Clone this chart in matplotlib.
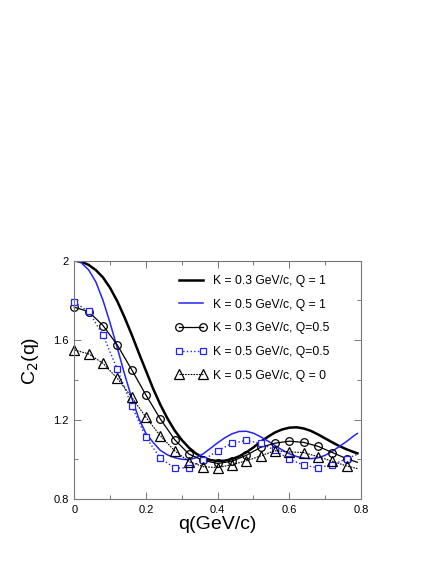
import matplotlib
matplotlib.use("Agg")
import matplotlib.pyplot as plt
from matplotlib.ticker import MultipleLocator, FormatStrFormatter

plt.rcParams['font.family'] = ['Liberation Sans', 'DejaVu Sans']

# smooth curves (Q = 1)
q_fine = [0.00, 0.02, 0.04, 0.06, 0.08, 0.10, 0.12, 0.14, 0.16, 0.18,
          0.20, 0.22, 0.24, 0.26, 0.28, 0.30, 0.32, 0.34, 0.36, 0.38,
          0.40, 0.42, 0.44, 0.46, 0.48, 0.50, 0.52, 0.54, 0.56, 0.58,
          0.60, 0.62, 0.64, 0.66, 0.68, 0.70, 0.72, 0.74, 0.76, 0.78, 0.79]
c2_k03_q1 = [2.000, 1.994, 1.978, 1.952, 1.915, 1.862, 1.795, 1.715, 1.628, 1.535,
             1.445, 1.355, 1.275, 1.205, 1.145, 1.097, 1.058, 1.028, 1.008, 0.996,
             0.991, 0.993, 1.001, 1.015, 1.035, 1.060, 1.088, 1.113, 1.135, 1.150,
             1.159, 1.161, 1.155, 1.143, 1.125, 1.105, 1.085, 1.066, 1.050, 1.036, 1.030]
c2_k05_q1 = [2.000, 1.988, 1.953, 1.893, 1.800, 1.685, 1.560, 1.430, 1.310, 1.205,
             1.130, 1.085, 1.045, 1.022, 1.008, 1.000, 0.998, 1.008, 1.028, 1.055,
             1.083, 1.108, 1.128, 1.140, 1.141, 1.131, 1.113, 1.092, 1.069, 1.047,
             1.028, 1.014, 1.006, 1.003, 1.007, 1.020, 1.040, 1.065, 1.090, 1.118, 1.130]

# marker series
q_pts = [0.00, 0.04, 0.08, 0.12, 0.16, 0.20, 0.24, 0.28, 0.32, 0.36, 0.40,
         0.44, 0.48, 0.52, 0.56, 0.60, 0.64, 0.68, 0.72, 0.76, 0.79]
c2_k03_q05 = [1.765, 1.743, 1.673, 1.575, 1.451, 1.323, 1.203, 1.099, 1.026, 0.994, 0.979,
              0.990, 1.020, 1.060, 1.081, 1.091, 1.085, 1.065, 1.034, 1.003, 0.985]
c2_k05_q05 = [1.790, 1.744, 1.625, 1.453, 1.270, 1.110, 1.006, 0.956, 0.957, 0.996, 1.043,
              1.080, 1.095, 1.080, 1.045, 1.000, 0.971, 0.957, 0.973, 1.003, 1.025]
c2_k05_q0 = [1.550, 1.530, 1.483, 1.407, 1.313, 1.211, 1.118, 1.043, 0.988, 0.963, 0.958,
             0.973, 0.992, 1.017, 1.043, 1.037, 1.034, 1.013, 0.990, 0.966, 0.953]

labels = ['K = 0.3 GeV/c, Q = 1', 'K = 0.5 GeV/c, Q = 1', 'K = 0.3 GeV/c, Q=0.5',
          'K = 0.5 GeV/c, Q=0.5', 'K = 0.5 GeV/c, Q = 0']

blue = '#2424f0'
fig = plt.figure(figsize=(4.36, 5.64), dpi=100)
ax = fig.add_axes([0.1704, 0.1152, 0.6576, 0.4229])

ax.plot(q_fine, c2_k03_q1, color='black', lw=1.8, label=labels[0])
ax.plot(q_fine, c2_k05_q1, color=blue, lw=1.1, label=labels[1])
mk = slice(0, 20)
ax.plot(q_pts, c2_k03_q05, color='black', lw=0.9, marker='o', ms=5.5, mfc='none',
        mec='black', mew=0.9, markevery=mk, clip_on=False, label=labels[2])
ax.plot(q_pts, c2_k05_q05, color=blue, lw=1.0, ls=':', marker='s', ms=4.2, mfc='white',
        mec=blue, mew=0.9, markevery=mk, clip_on=False, label=labels[3])
ax.plot(q_pts, c2_k05_q0, color='black', lw=0.8, ls=(0, (1.5, 1)), marker='^', ms=6.5,
        mfc='none', mec='black', mew=0.9, markevery=mk, clip_on=False, label=labels[4])

ax.set_xlim(0, 0.8)
ax.set_ylim(0.8, 2.0)
ax.xaxis.set_major_locator(MultipleLocator(0.2))
ax.xaxis.set_minor_locator(MultipleLocator(0.1))
ax.yaxis.set_major_locator(MultipleLocator(0.4))
ax.yaxis.set_minor_locator(MultipleLocator(0.2))
ax.xaxis.set_major_formatter(FormatStrFormatter('%g'))
ax.yaxis.set_major_formatter(FormatStrFormatter('%g'))
ax.tick_params(which='both', direction='in', top=True, right=True, labelsize=8,
               color='#777777', width=0.7)
ax.tick_params(which='major', length=5, pad=4)
ax.tick_params(which='minor', length=3)
for s in ax.spines.values():
    s.set_color('#777777')
    s.set_linewidth(0.8)

ax.set_xlabel('q(GeV/c)', fontsize=14, labelpad=1)
ax.set_ylabel('C$_2$(q)', fontsize=14)
ax.yaxis.set_label_coords(-0.115, 0.58)

ax.legend(loc='upper left', bbox_to_anchor=(0.352, 0.94), frameon=False, fontsize=8.7,
          numpoints=2, handlelength=2.6, handletextpad=0.5, labelspacing=0.97,
          borderaxespad=0, borderpad=0)

fig.savefig('out.png', dpi=100)
